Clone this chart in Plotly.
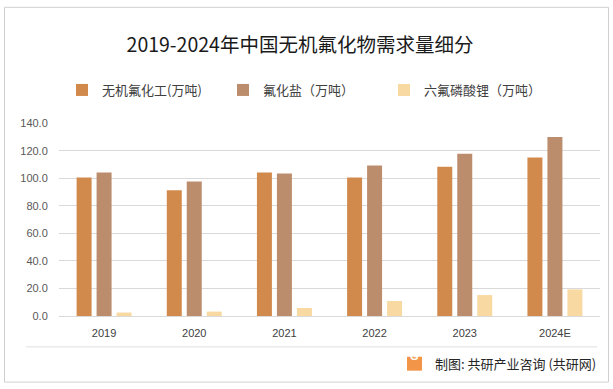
import plotly.graph_objects as go

categories = ["2019", "2020", "2021", "2022", "2023", "2024E"]
inorganic_fluorine = [100.6, 91.3, 104.2, 100.6, 108.4, 115.0]
fluoride_salt = [104.2, 97.7, 103.5, 109.2, 117.8, 130.0]
lipf6 = [2.5, 3.2, 5.8, 10.9, 15.2, 19.3]
series_names = ["无机氟化工(万吨)", "氟化盐（万吨）", "六氟磷酸锂（万吨）"]
colors = ["#D28A4C", "#BC8D6C", "#F8D9A2"]
y_ticks = [0, 20, 40, 60, 80, 100, 120, 140]

W, H = 613, 389
L, R, T, B = 59, 13, 122, 73
pw, ph = W - L - R, H - T - B


def px(x):
    return (x - L) / pw


def py(y):
    return (H - B - y) / ph


fig = go.Figure()
for name, vals, c in zip(series_names, [inorganic_fluorine, fluoride_salt, lipf6], colors):
    fig.add_trace(go.Bar(x=categories, y=vals, name=name, marker=dict(color=c, line=dict(width=0))))

cjk = "Noto Sans CJK SC"
fig.update_layout(
    width=W, height=H,
    margin=dict(l=L, r=R, t=T, b=B),
    paper_bgcolor="white", plot_bgcolor="white",
    barmode="group", bargap=0.335, bargroupgap=0.25,
    title=dict(text="2019-2024年中国无机氟化物需求量细分", x=300 / W, xanchor="center",
               y=1 - 45 / H, yanchor="middle", yref="container",
               font=dict(family=cjk, size=19.5, color="#1a1a1a")),
    legend=dict(orientation="h", xref="container", yref="container",
                x=62 / W, xanchor="left", y=1 - 90 / H, yanchor="middle",
                font=dict(family=cjk, size=13, color="#404040"),
                entrywidth=116, itemwidth=30, bgcolor="rgba(0,0,0,0)"),
    xaxis=dict(showline=True, linecolor="#D9D9D9", linewidth=1, showgrid=False,
               ticks="outside", ticklen=7, tickcolor="rgba(0,0,0,0)",
               tickfont=dict(family="Liberation Sans", size=11, color="#404040")),
    yaxis=dict(range=[0, 140], tickvals=y_ticks, tickformat=".1f", showgrid=True,
               gridcolor="#D9D9D9", gridwidth=1, zeroline=False, showline=False,
               ticks="outside", ticklen=8, tickcolor="rgba(0,0,0,0)",
               tickfont=dict(family="Liberation Sans", size=11, color="#595959")),
    showlegend=True,
)

# outer frame
fig.add_shape(type="rect", xref="paper", yref="paper",
              x0=px(4.5), x1=px(608.5), y0=py(382.5), y1=py(5.5),
              line=dict(color="#D0D0D0", width=1), fillcolor="rgba(0,0,0,0)", layer="below")
# separator line above footer
fig.add_shape(type="line", xref="paper", yref="paper",
              x0=px(26), x1=px(597), y0=py(347), y1=py(347),
              line=dict(color="#E0E0E0", width=1))
# logo
fig.add_shape(type="rect", xref="paper", yref="paper",
              x0=px(407), x1=px(422), y0=py(371), y1=py(357),
              line=dict(width=0), fillcolor="#F29548")
fig.add_annotation(text="<b>G</b>", xref="paper", yref="paper", x=px(414.5), y=py(364),
                   showarrow=False, font=dict(family="Liberation Sans", size=11, color="white"))
fig.add_annotation(text="制图: 共研产业咨询 (共研网)", xref="paper", yref="paper",
                   x=px(598), y=py(364), xanchor="right", yanchor="middle", showarrow=False,
                   font=dict(family=cjk, size=13, color="#262626"))

fig.write_html("out.html", config={"displayModeBar": False},
               post_script="document.body.style.margin='0';document.body.style.padding='0';"
                           "document.documentElement.style.overflow='hidden';")
